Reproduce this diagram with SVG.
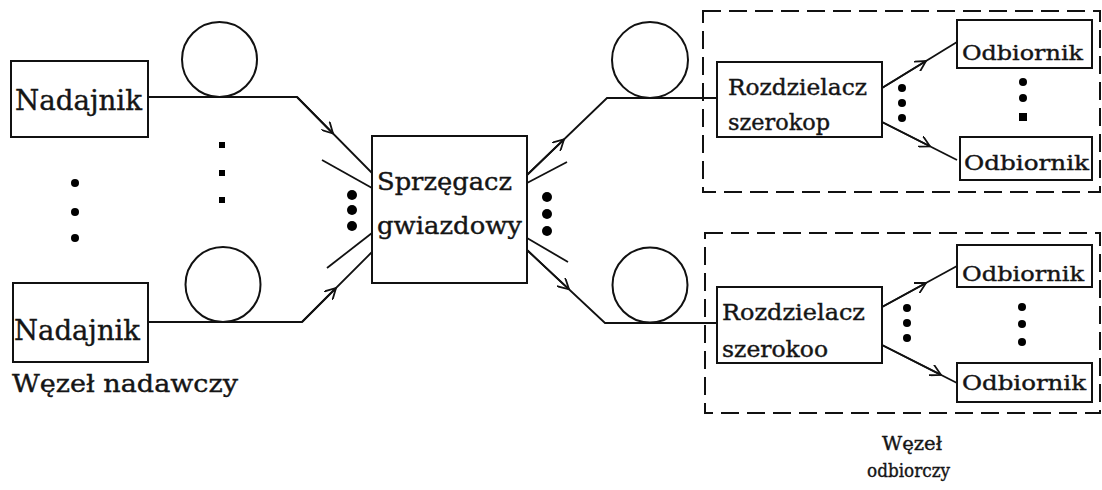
<svg xmlns="http://www.w3.org/2000/svg" width="1102" height="490" viewBox="0 0 1102 490">
<style>
.box{fill:#fff;stroke:#111;stroke-width:2}
.grp{fill:none;stroke:#111;stroke-width:2;stroke-dasharray:18 8}
.ring{fill:none;stroke:#111;stroke-width:2}
.ln{fill:none;stroke:#111;stroke-width:1.8}
.dot{fill:#000}
text{fill:#151515;stroke:#151515;stroke-width:0.4;font-family:"DejaVu Serif","Liberation Serif",serif}
.t1{font-size:28px}
.t2{font-size:25px}
.t3{font-size:22px}
.t4{font-size:21px}
.t5{font-size:19px}
</style>
<defs>
<marker id="arr" viewBox="0 0 12 12" refX="11" refY="6" markerWidth="12" markerHeight="12" markerUnits="userSpaceOnUse" orient="auto">
<path d="M0,0 L11,6 L0,12" fill="none" stroke="#111" stroke-width="1.8"/>
</marker>
</defs>
<rect width="1102" height="490" fill="#fff"/>

<g id="group-receiver-top"><rect class="grp" x="703" y="11" width="397" height="181"/></g>
<g id="group-receiver-bottom"><rect class="grp" x="705" y="233" width="395" height="180"/></g>

<g id="connectors">
<polyline class="ln" points="148,97 297,97 372,173"/>
<line class="ln" x1="297" y1="97" x2="333" y2="133.5" marker-end="url(#arr)"/>
<line class="ln" x1="322" y1="160" x2="372" y2="188"/>
<polyline class="ln" points="148,322 302,322 372,252"/>
<line class="ln" x1="302" y1="322" x2="336" y2="288" marker-end="url(#arr)"/>
<line class="ln" x1="327" y1="268" x2="372" y2="233"/>
<polyline class="ln" points="527,175 607,98 717,98"/>
<line class="ln" x1="527" y1="175" x2="564" y2="139.4" marker-end="url(#arr)"/>
<line class="ln" x1="527" y1="183" x2="567" y2="162"/>
<polyline class="ln" points="527,250 605,323 717,323"/>
<line class="ln" x1="527" y1="250" x2="569" y2="289.3" marker-end="url(#arr)"/>
<line class="ln" x1="527" y1="238" x2="568" y2="262"/>
<line class="ln" x1="882" y1="88" x2="957" y2="42"/>
<line class="ln" x1="882" y1="88" x2="926" y2="61" marker-end="url(#arr)"/>
<line class="ln" x1="882" y1="122" x2="957" y2="160"/>
<line class="ln" x1="882" y1="122" x2="930" y2="146.3" marker-end="url(#arr)"/>
<line class="ln" x1="882" y1="307" x2="957" y2="266"/>
<line class="ln" x1="882" y1="307" x2="926" y2="283" marker-end="url(#arr)"/>
<line class="ln" x1="882" y1="345" x2="957" y2="383"/>
<line class="ln" x1="882" y1="345" x2="941" y2="374.9" marker-end="url(#arr)"/>
</g>

<g id="fiber-loops">
<circle class="ring" cx="219.5" cy="59.5" r="37.5"/>
<circle class="ring" cx="223" cy="284.5" r="37.5"/>
<circle class="ring" cx="650" cy="60" r="38"/>
<circle class="ring" cx="650" cy="285" r="37.5"/>
</g>

<g id="tx1"><rect class="box" x="11" y="61" width="137" height="76"/><text class="t1" x="15" y="110" textLength="127" lengthAdjust="spacingAndGlyphs">Nadajnik</text></g>
<g id="tx2"><rect class="box" x="13" y="283" width="135" height="79"/><text class="t1" x="14" y="340" textLength="126" lengthAdjust="spacingAndGlyphs">Nadajnik</text></g>
<g id="tx-label"><text class="t2" x="12" y="392" textLength="226" lengthAdjust="spacingAndGlyphs">Węzeł nadawczy</text></g>

<g id="coupler"><rect class="box" x="372" y="136" width="155" height="147"/>
<text class="t2" x="377" y="190" textLength="135" lengthAdjust="spacingAndGlyphs">Sprzęgacz</text>
<text class="t2" x="377" y="234" textLength="145" lengthAdjust="spacingAndGlyphs">gwiazdowy</text></g>

<g id="splitter1"><rect class="box" x="717" y="62" width="165" height="75"/>
<text class="t3" x="728" y="95" textLength="139" lengthAdjust="spacingAndGlyphs">Rozdzielacz</text>
<text class="t3" x="728" y="130" textLength="102" lengthAdjust="spacingAndGlyphs">szerokop</text></g>
<g id="splitter2"><rect class="box" x="717" y="287" width="165" height="76"/>
<text class="t3" x="722" y="320" textLength="143" lengthAdjust="spacingAndGlyphs">Rozdzielacz</text>
<text class="t3" x="722" y="357" textLength="106" lengthAdjust="spacingAndGlyphs">szerokoo</text></g>

<g id="rx1"><rect class="box" x="957" y="20" width="135" height="48"/><text class="t4" x="962" y="60" textLength="121" lengthAdjust="spacingAndGlyphs">Odbiornik</text></g>
<g id="rx2"><rect class="box" x="960" y="137" width="132" height="43"/><text class="t4" x="964" y="170" textLength="125" lengthAdjust="spacingAndGlyphs">Odbiornik</text></g>
<g id="rx3"><rect class="box" x="957" y="245" width="135" height="42"/><text class="t4" x="962" y="281" textLength="122" lengthAdjust="spacingAndGlyphs">Odbiornik</text></g>
<g id="rx4"><rect class="box" x="957" y="363" width="135" height="39"/><text class="t4" x="962" y="390" textLength="124" lengthAdjust="spacingAndGlyphs">Odbiornik</text></g>

<g id="rx-label"><text class="t5" x="882" y="450" textLength="60" lengthAdjust="spacingAndGlyphs">Węzeł</text>
<text class="t5" x="867" y="477" textLength="83" lengthAdjust="spacingAndGlyphs">odbiorczy</text></g>

<g id="ellipses">
<circle class="dot" cx="75" cy="183" r="4"/><circle class="dot" cx="75" cy="212" r="4"/><circle class="dot" cx="75" cy="238" r="4"/>
<rect class="dot" x="219" y="142" width="6" height="6"/><rect class="dot" x="219" y="170" width="6" height="6"/><rect class="dot" x="219" y="197" width="6" height="6"/>
<circle class="dot" cx="352" cy="195" r="5"/><circle class="dot" cx="352" cy="210" r="5"/><circle class="dot" cx="352" cy="226" r="5"/>
<circle class="dot" cx="547" cy="197" r="5"/><circle class="dot" cx="547" cy="214" r="5"/><circle class="dot" cx="547" cy="231" r="5"/>
<circle class="dot" cx="902" cy="88" r="4"/><circle class="dot" cx="902" cy="103" r="4"/><circle class="dot" cx="902" cy="118" r="4"/>
<circle class="dot" cx="1023" cy="82" r="4"/><circle class="dot" cx="1023" cy="98" r="4"/><rect class="dot" x="1019" y="113" width="8" height="8"/>
<circle class="dot" cx="907" cy="308" r="4"/><circle class="dot" cx="907" cy="323" r="4"/><circle class="dot" cx="907" cy="338" r="4"/>
<circle class="dot" cx="1022" cy="307" r="4"/><circle class="dot" cx="1022" cy="324" r="4"/><circle class="dot" cx="1022" cy="342" r="4"/>
</g>
</svg>
